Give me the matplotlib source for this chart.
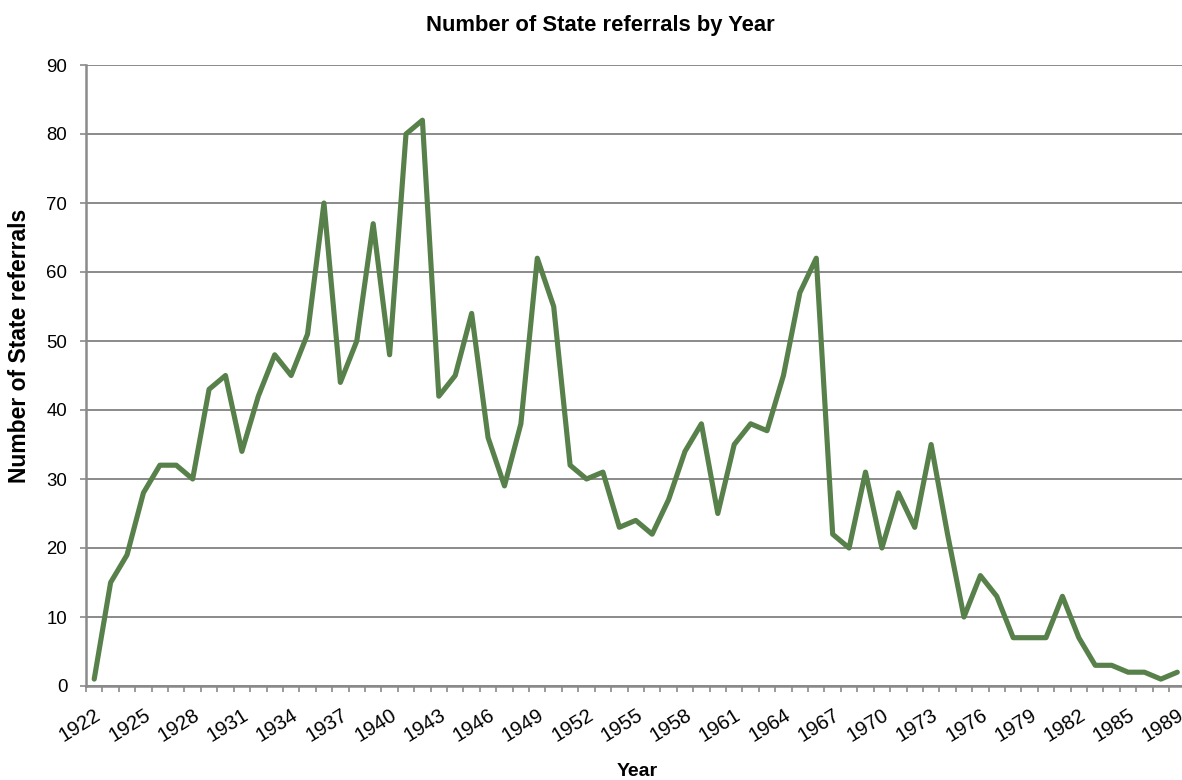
import matplotlib
matplotlib.use("Agg")
import matplotlib.pyplot as plt
import numpy as np

# Data
years = list(range(1922, 1988)) + [1989]
referrals = [1, 15, 19, 28, 32, 32, 30, 43, 45, 34,
             42, 48, 45, 51, 70, 44, 50, 67, 48, 80,
             82, 42, 45, 54, 36, 29, 38, 62, 55, 32,
             30, 31, 23, 24, 22, 27, 34, 38, 25, 35,
             38, 37, 45, 57, 62, 22, 20, 31, 20, 28,
             23, 35, 22, 10, 16, 13, 7, 7, 7, 13,
             7, 3, 3, 2, 2, 1, 2]
y_ticks = list(range(0, 91, 10))

LINE = "#58804a"
GRID = "#8a8a8a"

plt.rcParams["font.family"] = ["Liberation Sans", "DejaVu Sans"]

W, H = 1182, 780
fig = plt.figure(figsize=(W / 100, H / 100), dpi=100)
fig.patch.set_facecolor("white")

# axes placed in pixel terms; right edge runs slightly past the image
left, right, top, bottom = 86, 1185.5, 65, 686
ax = fig.add_axes((left / W, (H - bottom) / H,
                   (right - left) / W, (bottom - top) / H))

x = np.arange(len(years))
ax.plot(x, referrals, color=LINE, lw=3.7, solid_joinstyle="round",
        solid_capstyle="round", zorder=3, clip_on=False)

ax.set_xlim(-0.5, len(years) - 0.5)
ax.set_ylim(0, 90)

# y axis
ax.set_yticks(y_ticks)
ax.yaxis.grid(True, color=GRID, lw=1.4)
ax.set_axisbelow(True)
ax.tick_params(axis="y", direction="out", length=4.5, width=1.2,
               color=GRID, labelsize=13.4, pad=9)

# x axis: tick marks between categories, labels every third year
label_idx = list(range(0, len(years), 3))
ax.set_xticks(label_idx)
ax.set_xticklabels([str(years[i]) for i in label_idx], rotation=32,
                   ha="right", rotation_mode="anchor")
ax.set_xticks(np.arange(len(years) + 1) - 0.5, minor=True)
ax.tick_params(axis="x", which="major", length=0, labelsize=14.6, pad=14)
ax.tick_params(axis="x", which="minor", direction="out", length=4.5,
               width=1.2, color=GRID)

for side in ("top", "right"):
    ax.spines[side].set_visible(False)
for side in ("left", "bottom"):
    ax.spines[side].set_color(GRID)
    ax.spines[side].set_linewidth(1.8)

fig.text(600 / W, 1 - 25 / H, "Number of State referrals by Year",
         ha="center", va="center", fontsize=15.8, fontweight="bold")
fig.text(20 / W, 1 - 346 / H, "Number of State referrals",
         ha="center", va="center", rotation=90, fontsize=16.5,
         fontweight="bold")
fig.text(637 / W, 1 - 772 / H, "Year", ha="center", va="center",
         fontsize=14, fontweight="bold")

fig.savefig("out.png", dpi=100, facecolor="white")
